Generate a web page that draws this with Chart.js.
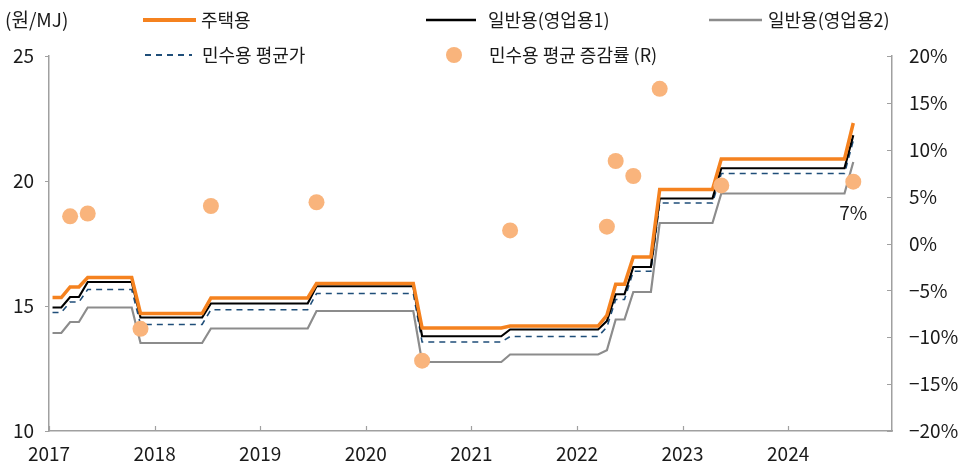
<!DOCTYPE html>
<html>
<head>
<meta charset="utf-8">
<script src="https://cdn.jsdelivr.net/npm/chart.js@4.4.1/dist/chart.umd.min.js"></script>
<style>
  html, body { margin: 0; padding: 0; background: #fff; }
</style>
</head>
<body>
<canvas id="myChart" width="973" height="466"></canvas>
<script>
// monthly prices, Jan 2017 .. Aug 2024 (원/MJ)
const residential = [
  15.34, 15.34, 15.76, 15.76, 16.14, 16.14, 16.14, 16.14, 16.14, 16.14, 14.70, 14.70, // 2017
  14.70, 14.70, 14.70, 14.70, 14.70, 14.70, 15.32, 15.32, 15.32, 15.32, 15.32, 15.32, // 2018
  15.32, 15.32, 15.32, 15.32, 15.32, 15.32, 15.90, 15.90, 15.90, 15.90, 15.90, 15.90, // 2019
  15.90, 15.90, 15.90, 15.90, 15.90, 15.90, 14.12, 14.12, 14.12, 14.12, 14.12, 14.12, // 2020
  14.12, 14.12, 14.12, 14.12, 14.20, 14.20, 14.20, 14.20, 14.20, 14.20, 14.20, 14.20, // 2021
  14.20, 14.20, 14.20, 14.63, 15.87, 15.87, 16.96, 16.96, 16.96, 19.66, 19.66, 19.66, // 2022
  19.66, 19.66, 19.66, 19.66, 20.88, 20.88, 20.88, 20.88, 20.88, 20.88, 20.88, 20.88, // 2023
  20.88, 20.88, 20.88, 20.88, 20.88, 20.88, 20.88, 22.32                              // 2024
]
const general1 = [
  14.94, 14.94, 15.36, 15.36, 15.96, 15.96, 15.96, 15.96, 15.96, 15.96, 14.54, 14.54,
  14.54, 14.54, 14.54, 14.54, 14.54, 14.54, 15.10, 15.10, 15.10, 15.10, 15.10, 15.10,
  15.10, 15.10, 15.10, 15.10, 15.10, 15.10, 15.79, 15.79, 15.79, 15.79, 15.79, 15.79,
  15.79, 15.79, 15.79, 15.79, 15.79, 15.79, 13.79, 13.79, 13.79, 13.79, 13.79, 13.79,
  13.79, 13.79, 13.79, 13.79, 14.06, 14.06, 14.06, 14.06, 14.06, 14.06, 14.06, 14.06,
  14.06, 14.06, 14.06, 14.40, 15.47, 15.47, 16.56, 16.56, 16.56, 19.30, 19.30, 19.30,
  19.30, 19.30, 19.30, 19.30, 20.51, 20.51, 20.51, 20.51, 20.51, 20.51, 20.51, 20.51,
  20.51, 20.51, 20.51, 20.51, 20.51, 20.51, 20.51, 21.83
]
const general2 = [
  13.92, 13.92, 14.36, 14.36, 14.94, 14.94, 14.94, 14.94, 14.94, 14.94, 13.52, 13.52,
  13.52, 13.52, 13.52, 13.52, 13.52, 13.52, 14.10, 14.10, 14.10, 14.10, 14.10, 14.10,
  14.10, 14.10, 14.10, 14.10, 14.10, 14.10, 14.80, 14.80, 14.80, 14.80, 14.80, 14.80,
  14.80, 14.80, 14.80, 14.80, 14.80, 14.80, 12.76, 12.76, 12.76, 12.76, 12.76, 12.76,
  12.76, 12.76, 12.76, 12.76, 13.06, 13.06, 13.06, 13.06, 13.06, 13.06, 13.06, 13.06,
  13.06, 13.06, 13.06, 13.23, 14.46, 14.46, 15.56, 15.56, 15.56, 18.32, 18.32, 18.32,
  18.32, 18.32, 18.32, 18.32, 19.50, 19.50, 19.50, 19.50, 19.50, 19.50, 19.50, 19.50,
  19.50, 19.50, 19.50, 19.50, 19.50, 19.50, 19.50, 20.76
]
const civilAvg = [
  14.74, 14.74, 15.16, 15.16, 15.66, 15.66, 15.66, 15.66, 15.66, 15.66, 14.26, 14.26,
  14.26, 14.26, 14.26, 14.26, 14.26, 14.26, 14.85, 14.85, 14.85, 14.85, 14.85, 14.85,
  14.85, 14.85, 14.85, 14.85, 14.85, 14.85, 15.50, 15.50, 15.50, 15.50, 15.50, 15.50,
  15.50, 15.50, 15.50, 15.50, 15.50, 15.50, 13.56, 13.56, 13.56, 13.56, 13.56, 13.56,
  13.56, 13.56, 13.56, 13.56, 13.78, 13.78, 13.78, 13.78, 13.78, 13.78, 13.78, 13.78,
  13.78, 13.78, 13.78, 14.16, 15.26, 15.26, 16.39, 16.39, 16.39, 19.12, 19.12, 19.12,
  19.12, 19.12, 19.12, 19.12, 20.30, 20.30, 20.30, 20.30, 20.30, 20.30, 20.30, 20.30,
  20.30, 20.30, 20.30, 20.30, 20.30, 20.30, 20.30, 21.62
]

// 민수용 평균 증감률 (%), only at the months with a tariff change
const rateMonths = ['2017-03', '2017-05', '2017-11', '2018-07', '2019-07', '2020-07', '2021-05',
                    '2022-04', '2022-05', '2022-07', '2022-10', '2023-05', '2024-08']
const rateValues = [2.9, 3.2, -9.1, 4.0, 4.4, -12.5, 1.4, 1.8, 8.8, 7.2, 16.5, 6.2, 6.6]
const lastRateLabel = '7%'

const years = [2017, 2018, 2019, 2020, 2021, 2022, 2023, 2024]
const startYear = 2017

var months = []
for (var i = 0; i < residential.length; i++) {
    var yy = startYear + Math.floor(i / 12)
    var mm = i % 12 + 1
    months.push(yy + '-' + (mm < 10 ? '0' + mm : mm))
}

// points sit a little into their month, like the source's date axis
const MID = 0.4
function toPoints(values) {
    return values.map((v, i) => ({ x: i + MID, y: v }))
}

const FONT = '"Noto Sans CJK KR", "Noto Sans", sans-serif'
const TEXT = '#1a1a1a'
const AXIS = '#a0a0a0'
const ORANGE = '#f5821f'
const NAVY = '#1f4e79'
const GREY = '#8c8c8c'
const DOT = '#f9b47c'

const decorPlugin = {
    id: 'decor',
    afterDraw(chart) {
        const ctx = chart.ctx
        const area = chart.chartArea
        const x = chart.scales.x, y = chart.scales.y, y1 = chart.scales.y1
        ctx.save()

        // small tick marks
        ctx.strokeStyle = AXIS
        ctx.lineWidth = 1.2
        ctx.beginPath()
        for (var v = 10; v <= 25; v += 5) {
            var py = Math.round(y.getPixelForValue(v)) + 0.5
            ctx.moveTo(area.left - 4, py); ctx.lineTo(area.left, py)
        }
        for (var r = -20; r <= 20; r += 5) {
            var py1 = Math.round(y1.getPixelForValue(r)) + 0.5
            ctx.moveTo(area.right - 5, py1); ctx.lineTo(area.right, py1)
        }
        years.forEach(function (yr) {
            var px = Math.round(x.getPixelForValue((yr - startYear) * 12)) + 0.5
            ctx.moveTo(px, area.bottom); ctx.lineTo(px, area.bottom - 5)
        })
        ctx.stroke()

        // unit + legend
        ctx.fillStyle = TEXT
        ctx.textBaseline = 'middle'
        ctx.textAlign = 'left'
        ctx.font = '19px ' + FONT
        ctx.fillText('(원/MJ)', 5, 20)
        ctx.font = '18px ' + FONT

        function legendLine(x0, x1, yy, color, width, dash) {
            ctx.beginPath()
            ctx.strokeStyle = color
            ctx.lineWidth = width
            ctx.setLineDash(dash || [])
            ctx.moveTo(x0, yy); ctx.lineTo(x1, yy)
            ctx.stroke()
            ctx.setLineDash([])
        }
        legendLine(143, 196, 20, ORANGE, 4)
        ctx.fillText('주택용', 201, 20)
        legendLine(426, 476, 20, '#000', 2.5)
        ctx.fillText('일반용(영업용1)', 488, 20)
        legendLine(709, 762, 20, GREY, 2.5)
        ctx.fillText('일반용(영업용2)', 768, 20)
        legendLine(145, 192, 55, NAVY, 2, [6, 5])
        ctx.fillText('민수용 평균가', 202, 55)
        ctx.beginPath()
        ctx.fillStyle = DOT
        ctx.arc(454, 55, 8, 0, Math.PI * 2)
        ctx.fill()
        ctx.fillStyle = TEXT
        ctx.fillText('민수용 평균 증감률 (R)', 489, 55)

        // label under the latest change
        const pts = chart.getDatasetMeta(4).data
        const last = pts[pts.length - 1]
        ctx.font = '19px ' + FONT
        ctx.textAlign = 'center'
        ctx.fillText(lastRateLabel, last.x, last.y + 31)
        ctx.restore()
    }
}

const ctx = document.getElementById('myChart')

new Chart(ctx, {
    type: 'line',
    data: {
        datasets: [{
            label: '주택용',
            data: toPoints(residential),
            borderColor: ORANGE,
            borderWidth: 3.5,
            order: 1
        }, {
            label: '일반용(영업용1)',
            data: toPoints(general1),
            borderColor: '#000',
            borderWidth: 2.2,
            order: 2
        }, {
            label: '일반용(영업용2)',
            data: toPoints(general2),
            borderColor: GREY,
            borderWidth: 2.2,
            order: 4
        }, {
            label: '민수용 평균가',
            data: toPoints(civilAvg),
            borderColor: NAVY,
            borderWidth: 1.6,
            borderDash: [6, 5],
            order: 3
        }, {
            type: 'scatter',
            label: '민수용 평균 증감률 (R)',
            data: rateMonths.map((m, i) => ({ x: months.indexOf(m) + MID, y: rateValues[i] })),
            yAxisID: 'y1',
            backgroundColor: DOT,
            borderWidth: 0,
            pointRadius: 8,
            order: 0
        }]
    },
    options: {
        responsive: false,
        animation: false,
        elements: { point: { radius: 0 }, line: { tension: 0 } },
        layout: { padding: { top: 56, left: 0, right: 0, bottom: 0 } },
        plugins: { legend: { display: false }, tooltip: { enabled: false } },
        scales: {
            x: {
                type: 'linear',
                min: 0,
                max: 95.8,
                grid: { display: false },
                border: { color: AXIS, width: 1.5 },
                afterBuildTicks: s => { s.ticks = years.map(yr => ({ value: (yr - startYear) * 12 })) },
                ticks: {
                    autoSkip: false, maxRotation: 0, padding: 3,
                    color: TEXT, font: { family: FONT, size: 19 },
                    callback: v => String(startYear + v / 12)
                },
                afterFit: s => { s.height = 35 }
            },
            y: {
                position: 'left',
                min: 10, max: 25,
                grid: { display: false },
                border: { color: AXIS, width: 1.5 },
                ticks: { stepSize: 5, padding: 7, color: TEXT, font: { family: FONT, size: 19 } },
                afterFit: s => { s.width = 49 }
            },
            y1: {
                position: 'right',
                min: -20, max: 20,
                grid: { display: false },
                border: { color: AXIS, width: 1.5 },
                ticks: {
                    stepSize: 5, padding: 9, color: TEXT, font: { family: FONT, size: 19 },
                    callback: v => (v < 0 ? '\u2212' + (-v) : v) + '%'
                },
                afterFit: s => { s.width = 81 }
            }
        }
    },
    plugins: [decorPlugin]
})
</script>
</body>
</html>
